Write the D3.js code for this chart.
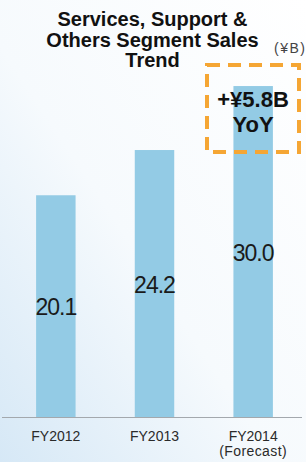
<!DOCTYPE html>
<html>
<head>
<meta charset="utf-8">
<script src="https://cdn.jsdelivr.net/npm/d3@7"></script>
<style>
  html, body { margin: 0; padding: 0; }
  body { width: 306px; height: 462px; overflow: hidden; }
  svg { display: block; font-family: 'Liberation Sans', Arial, sans-serif; }
</style>
</head>
<body>
<svg id="chart" width="306" height="462"></svg>
<script>
// chart data
const categories = ['FY2012', 'FY2013', 'FY2014'];
const subLabels = ['', '', '(Forecast)'];
const sales = [20.1, 24.2, 30.0];
const titleLines = ['Services, Support &', 'Others Segment Sales', 'Trend'];
const unitLabel = '(¥B)';
const calloutLines = ['+¥5.8B', 'YoY'];

const width = 306;
const height = 462;
const baseY = 417;

const svg = d3.select('#chart');

// background gradient
const defs = svg.append('defs');
const grad = defs.append('linearGradient')
  .attr('id', 'bg')
  .attr('x1', '100%').attr('y1', '0%')
  .attr('x2', '0%').attr('y2', '100%');
grad.append('stop').attr('offset', '0%').attr('stop-color', '#ffffff');
grad.append('stop').attr('offset', '55%').attr('stop-color', '#f6fafd');
grad.append('stop').attr('offset', '100%').attr('stop-color', '#d6e8f6');

svg.append('rect')
  .attr('width', width)
  .attr('height', height)
  .attr('fill', 'url(#bg)');

// scales
const xScale = d3.scaleBand()
  .domain(categories)
  .range([6.5, 302.5])
  .paddingInner(0.6)
  .paddingOuter(0.3);

const yScale = d3.scaleLinear()
  .domain([0, 37.8])
  .range([baseY, 0]);

// bars
svg.append('g')
  .selectAll('rect')
  .data(sales)
  .join('rect')
  .attr('x', (d, i) => xScale(categories[i]))
  .attr('y', d => yScale(d))
  .attr('width', xScale.bandwidth())
  .attr('height', d => yScale(0) - yScale(d))
  .attr('fill', '#93cbe5');

// value labels, centered in each bar
svg.append('g')
  .selectAll('text')
  .data(sales)
  .join('text')
  .attr('x', (d, i) => xScale(categories[i]) + xScale.bandwidth() / 2)
  .attr('y', d => (yScale(d) + yScale(0)) / 2 + 9)
  .attr('text-anchor', 'middle')
  .attr('font-size', 23)
  .attr('letter-spacing', -1)
  .attr('fill', '#1a1a1a')
  .text(d => d.toFixed(1));

// baseline
svg.append('line')
  .attr('x1', 2).attr('x2', 302)
  .attr('y1', baseY + 0.5).attr('y2', baseY + 0.5)
  .attr('stroke', '#a3a8ad')
  .attr('stroke-width', 1);

// x axis labels
const xAxis = d3.axisBottom(xScale).tickSize(0).tickPadding(0);
const axisG = svg.append('g')
  .attr('transform', `translate(0, ${baseY})`)
  .call(xAxis)
  .attr('font-size', 14)
  .attr('font-family', "'Liberation Sans', Arial, sans-serif");
axisG.select('.domain').remove();
axisG.selectAll('.tick text')
  .attr('y', 24)
  .attr('dy', 0)
  .attr('fill', '#2a2a2a');
axisG.selectAll('.tick')
  .append('text')
  .attr('y', 39)
  .attr('text-anchor', 'middle')
  .attr('letter-spacing', 0.4)
  .attr('fill', '#2a2a2a')
  .text((d, i) => subLabels[i]);

// title
svg.append('g')
  .selectAll('text')
  .data(titleLines)
  .join('text')
  .attr('x', 152.5)
  .attr('y', (d, i) => 26 + i * 20.5)
  .attr('text-anchor', 'middle')
  .attr('font-size', 20)
  .attr('font-weight', 'bold')
  .attr('fill', '#111')
  .text(d => d);

// unit
svg.append('text')
  .attr('x', 274)
  .attr('y', 53)
  .attr('font-size', 14)
  .attr('letter-spacing', 1.5)
  .attr('fill', '#444')
  .text(unitLabel);

// callout box
svg.append('rect')
  .attr('x', 207)
  .attr('y', 65)
  .attr('width', 92)
  .attr('height', 87)
  .attr('fill', 'none')
  .attr('stroke', '#f5a634')
  .attr('stroke-width', 4)
  .attr('stroke-dasharray', '13 8');

svg.append('g')
  .selectAll('text')
  .data(calloutLines)
  .join('text')
  .attr('x', 253)
  .attr('y', (d, i) => 107 + i * 25)
  .attr('text-anchor', 'middle')
  .attr('font-size', 22)
  .attr('font-weight', 'bold')
  .attr('fill', '#111')
  .text(d => d);
</script>
</body>
</html>
